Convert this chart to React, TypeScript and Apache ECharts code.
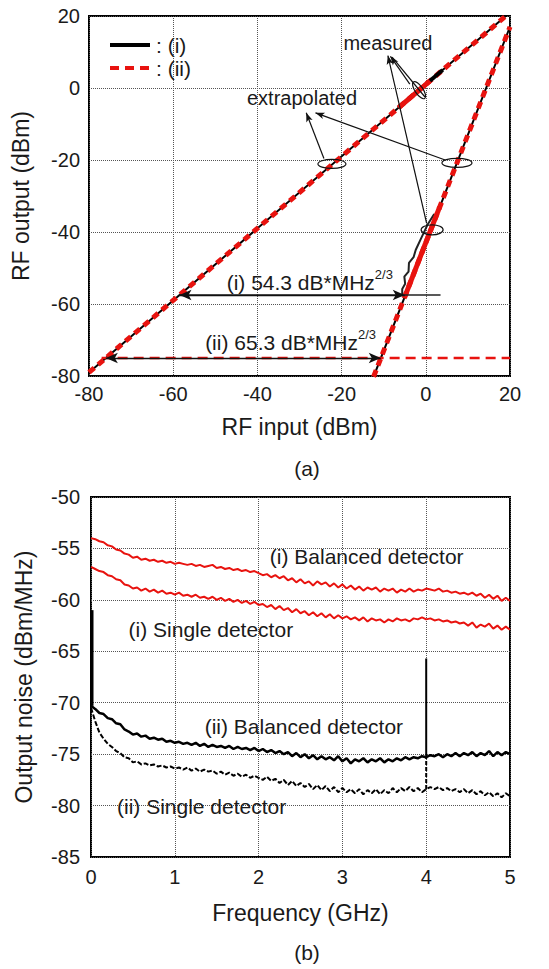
import React, { useEffect, useRef } from 'react';
import * as echarts from 'echarts';

const FONT = '"Liberation Sans", Arial, sans-serif';
const INK = '#1a1a1a';
const RED = '#e8130f';

// ---------- Panel (a): RF output vs RF input ----------
const fundInput = [-80, 19];
const fundOutput = [-79, 20];
const imdInput = [-12.4, 20];
const imdOutput = [-80.2, 17];
const measFundInput = [-6.5, 4.0];
const measFundOutput = [-5.5, 5.0];
const measFundRedInput = [-6.5, 1.0];
const measFundRedOutput = [-5.5, 2.0];
const measImdBlackInput = [-5.6, -5.6, -4.9, -5.1, -4.1, -4.0, -2.9, -2.4, -1.2, 0.4, 2.0];
const measImdBlackOutput = [-57.6, -55.8, -54.4, -52.4, -51.0, -48.6, -47.0, -45.0, -42.0, -38.0, -35.0];
const measImdRedInput = [-5.0, 3.3];
const measImdRedOutput = [-58.0, -33.0];
const floorIInput = [-58.5, 3.5];
const floorIOutput = [-57.5, -57.5];
const floorIIInput = [-77, 20];
const floorIIOutput = [-75, -75];
const sfdrIStart = [-58.5, -57.5];
const sfdrIEnd = [-5.0, -57.5];
const sfdrIIStart = [-76.0, -75.0];
const sfdrIIEnd = [-10.7, -75.0];

// ---------- Panel (b): output noise vs frequency ----------
const freqGHz = [
  0, 0.05, 0.1, 0.15, 0.2, 0.25, 0.3, 0.35, 0.4, 0.45, 0.5, 0.55, 0.6, 0.65, 0.7, 0.75, 0.8, 0.85, 0.9, 0.95,
  1, 1.05, 1.1, 1.15, 1.2, 1.25, 1.3, 1.35, 1.4, 1.45, 1.5, 1.55, 1.6, 1.65, 1.7, 1.75, 1.8, 1.85, 1.9, 1.95,
  2, 2.05, 2.1, 2.15, 2.2, 2.25, 2.3, 2.35, 2.4, 2.45, 2.5, 2.55, 2.6, 2.65, 2.7, 2.75, 2.8, 2.85, 2.9, 2.95,
  3, 3.05, 3.1, 3.15, 3.2, 3.25, 3.3, 3.35, 3.4, 3.45, 3.5, 3.55, 3.6, 3.65, 3.7, 3.75, 3.8, 3.85, 3.9, 3.95,
  4, 4.05, 4.1, 4.15, 4.2, 4.25, 4.3, 4.35, 4.4, 4.45, 4.5, 4.55, 4.6, 4.65, 4.7, 4.75, 4.8, 4.85, 4.9, 4.95, 5,
];
const balancedI = [
  -54.0, -54.1, -54.3, -54.4, -54.7, -54.8, -55.1, -55.2, -55.5, -55.6, -55.9, -55.8, -56.1, -56.0, -56.2, -56.1, -56.3, -56.2, -56.4, -56.3,
  -56.5, -56.4, -56.5, -56.6, -56.5, -56.7, -56.6, -56.8, -56.7, -56.6, -56.9, -56.8, -57.0, -56.9, -57.1, -57.0, -57.2, -57.1, -57.3, -57.2,
  -57.4, -57.6, -57.5, -57.8, -57.6, -57.9, -57.7, -58.1, -57.9, -58.3, -58.0, -58.4, -58.2, -58.6, -58.2, -58.5, -58.3, -58.7, -58.4, -58.8,
  -58.5, -58.9, -58.6, -59.0, -58.7, -59.1, -58.8, -59.0, -58.8, -59.2, -58.9, -59.1, -58.9, -59.3, -59.0, -59.2, -58.9, -59.2, -59.0, -59.1,
  -58.9, -59.0, -59.1, -58.9, -59.2, -59.1, -59.3, -59.2, -59.4, -59.3, -59.5, -59.3, -59.6, -59.4, -59.8, -59.5, -59.9, -59.6, -60.1, -59.8, -60.1,
];
const singleI = [
  -56.8, -57.0, -57.2, -57.3, -57.6, -57.7, -58.0, -58.1, -58.5, -58.6, -58.9, -58.8, -59.1, -58.9, -59.2, -59.0, -59.3, -59.1, -59.4, -59.3,
  -59.5, -59.3, -59.6, -59.5, -59.7, -59.5, -59.8, -59.7, -59.9, -59.7, -60.0, -59.8, -60.1, -59.9, -60.2, -60.0, -60.3, -60.1, -60.4, -60.2,
  -60.5, -60.4, -60.7, -60.5, -60.9, -60.6, -61.0, -60.8, -61.2, -60.9, -61.3, -61.1, -61.5, -61.2, -61.6, -61.3, -61.7, -61.4, -61.8, -61.5,
  -61.8, -61.6, -61.9, -61.7, -62.0, -61.7, -62.1, -61.8, -62.0, -61.9, -62.2, -61.9, -62.1, -61.8, -62.0, -61.9, -62.1, -61.8, -61.9, -61.7,
  -61.9, -61.8, -62.0, -61.9, -62.1, -62.0, -62.2, -62.1, -62.3, -62.2, -62.5, -62.2, -62.7, -62.4, -62.6, -62.3, -62.8, -62.5, -62.9, -62.6, -62.9,
];
const balancedII = [
  -70.3, -70.6, -71.0, -71.1, -71.5, -71.6, -72.0, -72.1, -72.6, -72.8, -73.1, -73.0, -73.3, -73.2, -73.5, -73.4, -73.6, -73.5, -73.8, -73.7,
  -73.9, -73.8, -74.0, -73.9, -74.1, -73.9, -74.2, -74.0, -74.3, -74.1, -74.3, -74.2, -74.4, -74.2, -74.5, -74.3, -74.5, -74.4, -74.6, -74.4,
  -74.7, -74.5, -74.8, -74.6, -74.9, -74.7, -75.0, -74.8, -75.2, -74.9, -75.3, -75.0, -75.4, -75.1, -75.5, -75.2, -75.5, -75.3, -75.6, -75.2,
  -75.7, -75.4, -75.9, -75.5, -75.7, -75.4, -75.8, -75.5, -75.7, -75.4, -75.8, -75.5, -75.7, -75.4, -75.6, -75.3, -75.5, -75.3, -75.4, -75.2,
  -75.3, -75.1, -75.2, -75.0, -75.3, -75.0, -75.2, -74.9, -75.2, -74.9, -75.1, -74.8, -75.2, -74.9, -75.1, -74.7, -75.2, -74.8, -75.1, -74.8, -75.0,
];
const singleII = [
  -70.5, -71.8, -72.9, -73.5, -74.0, -74.3, -74.7, -74.9, -75.3, -75.4, -75.8, -75.7, -76.0, -75.9, -76.1, -76.0, -76.2, -76.1, -76.3, -76.2,
  -76.4, -76.3, -76.5, -76.3, -76.6, -76.4, -76.7, -76.5, -76.7, -76.6, -76.9, -76.7, -77.0, -76.8, -77.1, -76.9, -77.2, -77.0, -77.3, -77.1,
  -77.3, -77.5, -77.2, -77.6, -77.4, -77.8, -77.5, -78.0, -77.6, -78.1, -77.8, -78.2, -77.9, -78.4, -78.0, -78.5, -78.1, -78.6, -78.2, -78.7,
  -78.3, -78.7, -78.4, -78.8, -78.4, -78.9, -78.5, -78.8, -78.4, -78.9, -78.5, -78.8, -78.3, -78.7, -78.3, -78.6, -78.2, -78.6, -78.3, -78.7,
  -78.4, -78.2, -78.4, -78.2, -78.5, -78.3, -78.6, -78.4, -78.7, -78.4, -78.8, -78.5, -78.9, -78.6, -79.0, -78.7, -79.1, -78.8, -79.2, -78.8, -79.1,
];
const spikeLowFreq = [0.012, 0.012];
const spikeLowNoise = [-61.0, -70.3];
const spike4BalFreq = [4.0, 4.0];
const spike4BalNoise = [-75.3, -65.7];
const spike4SglFreq = [4.0, 4.0];
const spike4SglNoise = [-78.4, -75.3];

const zip = (xs: number[], ys: number[]) => xs.map((x, i) => [x, ys[i]]);

const tickLabel = { color: INK, fontFamily: FONT, fontSize: 20 };
const splitLine = { show: true, lineStyle: { color: '#555', type: 'dotted' as const, width: 1 } };
const nameStyle = { color: INK, fontFamily: FONT, fontSize: 23 };

function lineSeries(name: string, grid: number, data: number[][], style: any, z = 2) {
  return {
    name,
    type: 'line',
    xAxisIndex: grid,
    yAxisIndex: grid,
    data,
    showSymbol: false,
    symbol: 'none',
    silent: true,
    z,
    lineStyle: style,
  };
}

export default function App() {
  const ref = useRef<HTMLDivElement>(null);

  useEffect(() => {
    const chart = echarts.init(ref.current!, null, { renderer: 'svg' });
    const arrowPair = (a: number[], b: number[]) => [
      { coord: a, symbol: 'arrow' },
      { coord: b, symbol: 'arrow' },
    ];
    const pointer = (from: number[], to: number[], head = true) => [
      { coord: from, symbol: 'none' },
      { coord: to, symbol: head ? 'arrow' : 'none' },
    ];
    const option: any = {
      animation: false,
      backgroundColor: '#fff',
      grid: [
        { left: 89, top: 16, width: 421, height: 360, show: true, borderColor: '#000', borderWidth: 2, backgroundColor: 'transparent' },
        { left: 91, top: 497, width: 419, height: 360, show: true, borderColor: '#000', borderWidth: 2, backgroundColor: 'transparent' },
      ],
      xAxis: [
        {
          gridIndex: 0, type: 'value', min: -80, max: 20, interval: 20,
          name: 'RF input (dBm)', nameLocation: 'middle', nameGap: 39, nameTextStyle: nameStyle,
          axisLine: { show: false }, axisTick: { show: false },
          axisLabel: { ...tickLabel, margin: 8 }, splitLine,
        },
        {
          gridIndex: 1, type: 'value', min: 0, max: 5, interval: 1,
          name: 'Frequency (GHz)', nameLocation: 'middle', nameGap: 44, nameTextStyle: nameStyle,
          axisLine: { show: false }, axisTick: { show: false },
          axisLabel: { ...tickLabel, margin: 10 }, splitLine,
        },
      ],
      yAxis: [
        {
          gridIndex: 0, type: 'value', min: -80, max: 20, interval: 20,
          name: 'RF output (dBm)', nameLocation: 'middle', nameGap: 57, nameTextStyle: nameStyle,
          axisLine: { show: false }, axisTick: { show: false },
          axisLabel: { ...tickLabel, margin: 9 }, splitLine,
        },
        {
          gridIndex: 1, type: 'value', min: -85, max: -50, interval: 5,
          name: 'Output noise (dBm/MHz)', nameLocation: 'middle', nameGap: 56, nameTextStyle: nameStyle,
          axisLine: { show: false }, axisTick: { show: false },
          axisLabel: { ...tickLabel, margin: 11 }, splitLine,
        },
      ],
      series: [
        // panel (a)
        lineSeries('fund-i', 0, zip(fundInput, fundOutput), { color: '#000', width: 2 }),
        lineSeries('fund-ii', 0, zip(fundInput, fundOutput), { color: RED, width: 5, type: [7, 5] }),
        lineSeries('imd-i', 0, zip(imdInput, imdOutput), { color: '#000', width: 2 }),
        lineSeries('imd-ii', 0, zip(imdInput, imdOutput), { color: RED, width: 5, type: [7, 5] }),
        lineSeries('meas-fund-i', 0, zip(measFundInput, measFundOutput), { color: '#000', width: 4 }),
        lineSeries('meas-fund-ii', 0, zip(measFundRedInput, measFundRedOutput), { color: RED, width: 5 }),
        lineSeries('meas-imd-i', 0, zip(measImdBlackInput, measImdBlackOutput), { color: '#222', width: 2 }),
        lineSeries('meas-imd-ii', 0, zip(measImdRedInput, measImdRedOutput), { color: RED, width: 5 }),
        lineSeries('floor-ii', 0, zip(floorIIInput, floorIIOutput), { color: RED, width: 2.5, type: [10, 6] }),
        lineSeries('floor-i', 0, zip(floorIInput, floorIOutput), { color: '#222', width: 1.5 }),
        {
          type: 'line', xAxisIndex: 0, yAxisIndex: 0, data: [], silent: true, z: 5,
          markLine: {
            silent: true, animation: false,
            symbolSize: [8, 12],
            label: { show: false },
            lineStyle: { color: '#111', width: 1.3, type: 'solid' },
            data: [
              arrowPair(sfdrIStart, sfdrIEnd),
              arrowPair(sfdrIIStart, sfdrIIEnd),
            ],
          },
        },
        {
          type: 'line', xAxisIndex: 0, yAxisIndex: 0, data: [], silent: true, z: 5,
          markLine: {
            silent: true, animation: false,
            symbolSize: [5, 9],
            label: { show: false },
            lineStyle: { color: '#111', width: 1.2, type: 'solid' },
            data: [
              pointer([-3.8, 1.1], [-8.4, 8.8]),
              pointer([-0.2, -2.5], [-8.0, 8.6], false),
              pointer([0.2, -37.6], [-9.0, 9.0]),
              pointer([-24.2, -19.6], [-28.4, -6.9]),
              pointer([4.6, -20.0], [-26.2, -6.9]),
            ],
          },
        },
        // panel (b)
        lineSeries('bal-i', 1, zip(freqGHz, balancedI), { color: RED, width: 2 }),
        lineSeries('sgl-i', 1, zip(freqGHz, singleI), { color: RED, width: 2 }),
        lineSeries('bal-ii', 1, zip(freqGHz, balancedII), { color: '#000', width: 2.5 }),
        lineSeries('sgl-ii', 1, zip(freqGHz, singleII), { color: '#000', width: 2, type: [5, 2] }),
        lineSeries('spike-low', 1, zip(spikeLowFreq, spikeLowNoise), { color: '#000', width: 3 }),
        lineSeries('spike-4-bal', 1, zip(spike4BalFreq, spike4BalNoise), { color: '#000', width: 2 }),
        lineSeries('spike-4-sgl', 1, zip(spike4SglFreq, spike4SglNoise), { color: '#000', width: 2, type: [4, 2] }),
      ],
    };
    chart.setOption(option);

    const px = (gi: number, x: number, y: number) => chart.convertToPixel({ gridIndex: gi } as any, [x, y]) as number[];
    const txt = (p: number[], text: string, size = 20, align = 'center', dy = 0) => ({
      type: 'text',
      x: p[0], y: p[1] + dy,
      silent: true,
      z: 10,
      style: {
        text, fill: INK, font: `${size}px ${FONT}`,
        textAlign: align, textVerticalAlign: 'middle', align, verticalAlign: 'middle',
      },
    });
    const ell = (p: number[], rx: number, ry: number, rotation = 0) => ({
      type: 'ellipse',
      x: p[0], y: p[1], rotation,
      silent: true, z: 10,
      shape: { cx: 0, cy: 0, rx, ry },
      style: { fill: 'none', stroke: '#111', lineWidth: 1.2 },
    });

    const gTop = [89, 16];
    const graphic: any[] = [
      // legend
      { type: 'line', silent: true, z: 10, shape: { x1: gTop[0] + 21, y1: gTop[1] + 29, x2: gTop[0] + 61, y2: gTop[1] + 29 }, style: { stroke: '#000', lineWidth: 4 } },
      { type: 'text', silent: true, z: 10, x: gTop[0] + 67, y: gTop[1] + 29, style: { text: ': (i)', fill: INK, font: `21px ${FONT}`, textVerticalAlign: 'middle', verticalAlign: 'middle' } },
      { type: 'line', silent: true, z: 10, shape: { x1: gTop[0] + 21, y1: gTop[1] + 52, x2: gTop[0] + 61, y2: gTop[1] + 52 }, style: { stroke: RED, lineWidth: 4, lineDash: [9, 6] } },
      { type: 'text', silent: true, z: 10, x: gTop[0] + 67, y: gTop[1] + 52, style: { text: ': (ii)', fill: INK, font: `21px ${FONT}`, textVerticalAlign: 'middle', verticalAlign: 'middle' } },
      // annotations panel (a)
      txt(px(0, -9.0, 12.5), 'measured'),
      txt(px(0, -29.4, -2.8), 'extrapolated'),
      ell(px(0, -22.3, -21.1), 14, 4.5),
      ell(px(0, 7.4, -20.8), 15, 4.5),
      ell(px(0, 1.5, -39.4), 11, 5),
      ell(px(0, -1.6, -0.6), 4, 10, 0.6),
      txt(px(0, -12.1, -53.9), '(i) 54.3 dB*MHz', 21, 'right'),
      txt(px(0, -12.1, -53.9), '2/3', 13, 'left', -8),
      txt(px(0, -16.1, -70.8), '(ii) 65.3 dB*MHz', 21, 'right'),
      txt(px(0, -16.1, -70.8), '2/3', 13, 'left', -8),
      // annotations panel (b)
      txt(px(1, 3.29, -55.8), '(i) Balanced detector', 21),
      txt(px(1, 1.43, -62.9), '(i) Single detector', 21),
      txt(px(1, 2.54, -72.3), '(ii) Balanced detector', 21),
      txt(px(1, 1.32, -80.1), '(ii) Single detector', 21),
      // captions
      { type: 'text', silent: true, z: 10, x: 307, y: 468, style: { text: '(a)', fill: INK, font: `21px ${FONT}`, textAlign: 'center', textVerticalAlign: 'middle', align: 'center', verticalAlign: 'middle' } },
      { type: 'text', silent: true, z: 10, x: 307, y: 952, style: { text: '(b)', fill: INK, font: `21px ${FONT}`, textAlign: 'center', textVerticalAlign: 'middle', align: 'center', verticalAlign: 'middle' } },
    ];
    chart.setOption({ graphic });

    return () => chart.dispose();
  }, []);

  return (
    <div
      ref={ref}
      style={{ position: 'fixed', left: 0, top: 0, width: 549, height: 969, background: '#fff' }}
    />
  );
}
